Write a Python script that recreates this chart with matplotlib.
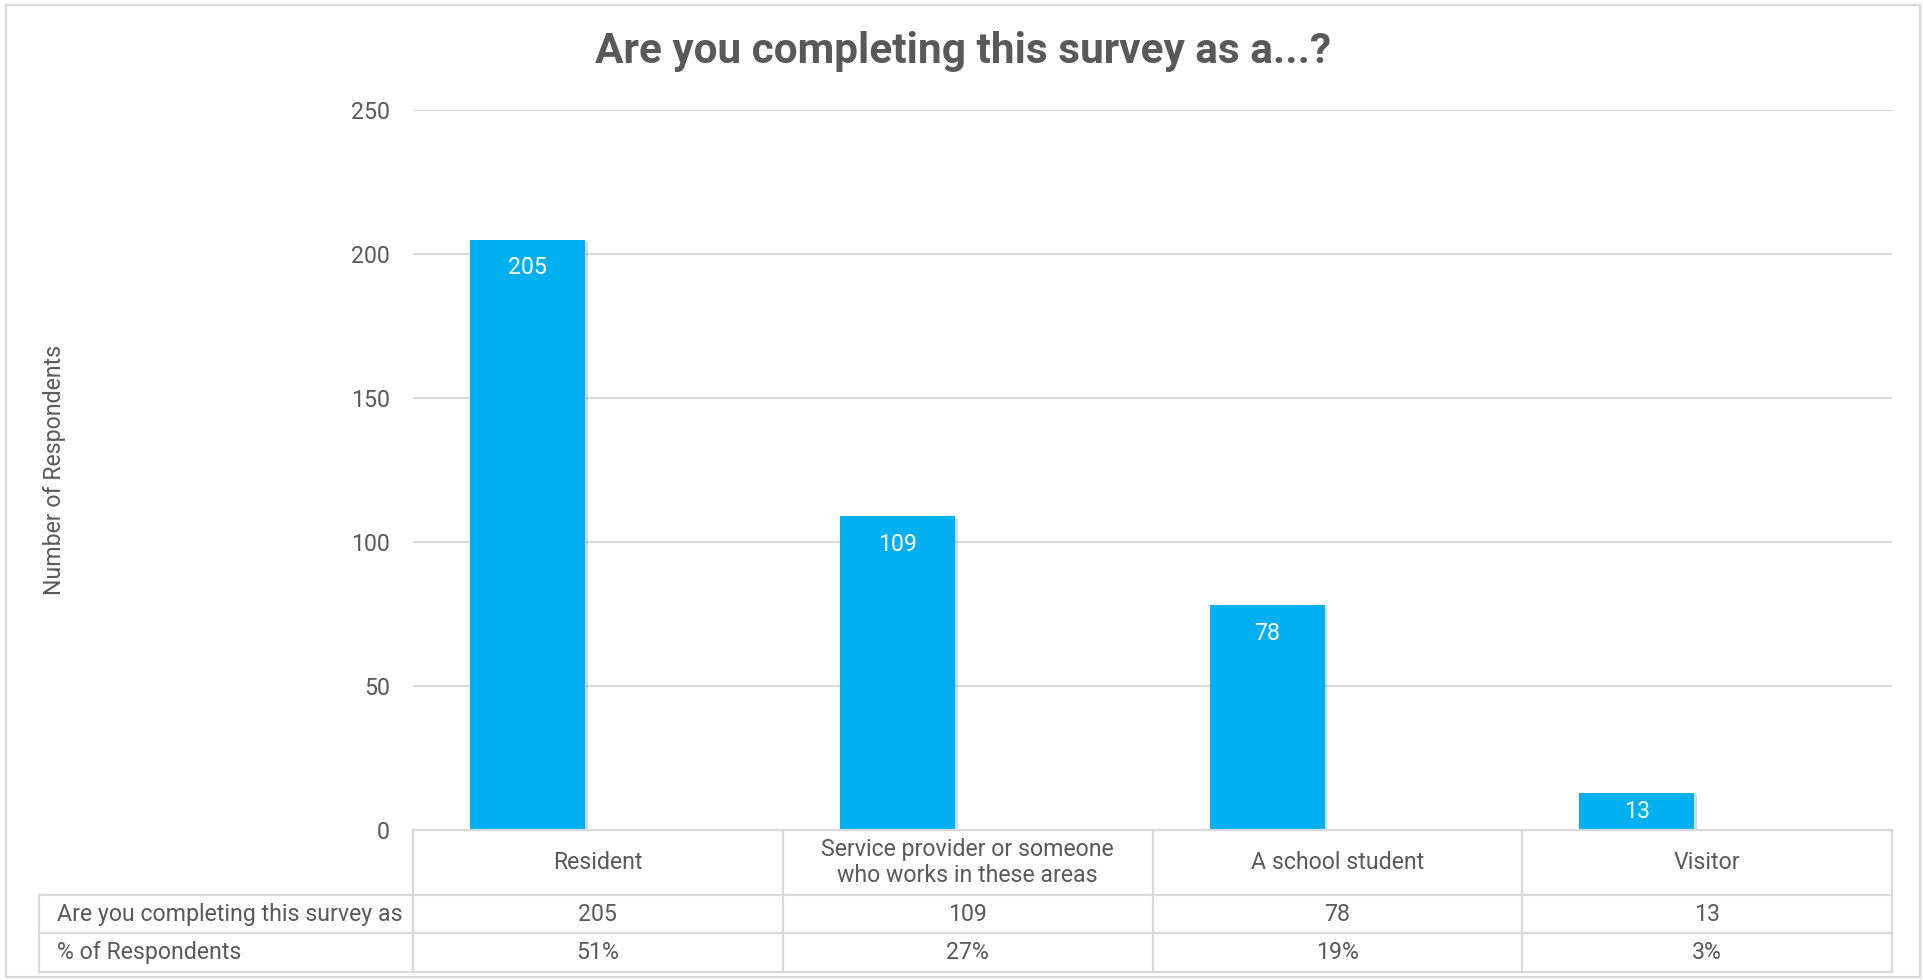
import matplotlib
matplotlib.use('Agg')
import matplotlib.pyplot as plt
from matplotlib import font_manager, transforms, patheffects
from matplotlib.lines import Line2D
from matplotlib.patches import Rectangle
import numpy as np

# ---- data ----
categories = ['Resident', 'Service provider or someone\nwho works in these areas',
              'A school student', 'Visitor']
counts = [205, 109, 78, 13]
percents = [0.51, 0.27, 0.19, 0.03]
series_names = ['Are you completing this survey as', '% of Respondents']
count_labels = ['205', '109', '78', '13']
pct_labels = ['51%', '27%', '19%', '3%']
yticks = [0, 50, 100, 150, 200, 250]
title = 'Are you completing this survey as a...?'
ylabel = 'Number of Respondents'

avail = {f.name for f in font_manager.fontManager.ttflist}
font = next((f for f in ['Roboto', 'Liberation Sans']
             if f in avail), 'DejaVu Sans')
plt.rcParams['font.family'] = [font, 'DejaVu Sans']

TXT = '#595959'
GRID = '#D9D9D9'
FS = 16.7
W, H = 1924, 980
fig = plt.figure(figsize=(W / 100, H / 100), dpi=100)


def fx(px):
    return px / W


def fy(py):
    return 1 - py / H


L, R, T, B = 413, 1892, 110, 830
ax = fig.add_axes([fx(L), fy(B), fx(R) - fx(L), fy(T) - fy(B)])
x = np.arange(len(categories))
w = 0.311
off = 0.19
shadow = [patheffects.SimplePatchShadow(offset=(2, -2), shadow_rgbFace='#7f7f7f', alpha=0.3),
          patheffects.Normal()]
b1 = ax.bar(x - off, counts, w, color='#00B0F0', zorder=3)
b2 = ax.bar(x + off, percents, w, color='#E6DAD5', zorder=3)
for p in list(b1) + list(b2):
    p.set_path_effects(shadow)
ax.set_xlim(-0.5, len(categories) - 0.5)
ax.set_ylim(0, 250)
ax.set_yticks(yticks)
ax.set_xticks([])
ax.yaxis.grid(True, color=GRID, lw=1.5)
ax.set_axisbelow(True)
for s in ax.spines.values():
    s.set_visible(False)
ax.tick_params(axis='y', length=0, pad=16.5, labelsize=FS, labelcolor=TXT)

# inside-end data labels (kept inside short bars)
for xi, c, lab in zip(x, counts, count_labels):
    top = ax.transData.transform((0, c))[1]
    base = ax.transData.transform((0, 0))[1]
    dy = min(28, (top - base) * 0.5)
    ax.annotate(lab, (xi - off, c), xytext=(0, -dy), textcoords='offset pixels',
                ha='center', va='center', color='white', fontsize=FS, zorder=5)

fig.text(fx(55), fy(470), ylabel, rotation=90, ha='center', va='center',
         fontsize=FS, color=TXT)
fig.text(fx(963), fy(52), title, ha='center', va='center', fontsize=30.5,
         fontweight='bold', color=TXT)

# ---- data table ----
bt = transforms.blended_transform_factory(ax.transData, fig.transFigure)
TL = 39
rows_y = [830, 895, 933, 972]


def hline(y, x0, x1):
    fig.add_artist(Line2D([fx(x0), fx(x1)], [fy(y), fy(y)], color=GRID, lw=1.6,
                          transform=fig.transFigure))


def vline(xp, y0, y1):
    fig.add_artist(Line2D([fx(xp), fx(xp)], [fy(y0), fy(y1)], color=GRID, lw=1.6,
                          transform=fig.transFigure))


hline(830, L, R)
for yy in rows_y[1:]:
    hline(yy, TL, R)
vline(TL, 895, 972)
for k in range(len(categories) + 1):
    xp = L + (R - L) * k / len(categories)
    vline(xp, 830, 972)

for xi, cat in zip(x, categories):
    fig.text(xi, fy(862.5), cat, transform=bt, fontsize=FS, color=TXT, ha='center',
             va='center', linespacing=1.2)

row_mid = [(895 + 933) / 2, (933 + 972) / 2]
for ry, name, labs in zip(row_mid, series_names, [count_labels, pct_labels]):
    fig.text(fx(57), fy(ry), name, ha='left', va='center', fontsize=FS, color=TXT)
    for xi, lab in zip(x, labs):
        fig.text(xi, fy(ry), lab, transform=bt, ha='center', va='center',
                 fontsize=FS, color=TXT)

fig.add_artist(Rectangle((fx(6), fy(977)), fx(1920) - fx(6), fy(5) - fy(977),
                         transform=fig.transFigure, fill=False, edgecolor=GRID, lw=1.6))

fig.savefig('out.png', dpi=100)
